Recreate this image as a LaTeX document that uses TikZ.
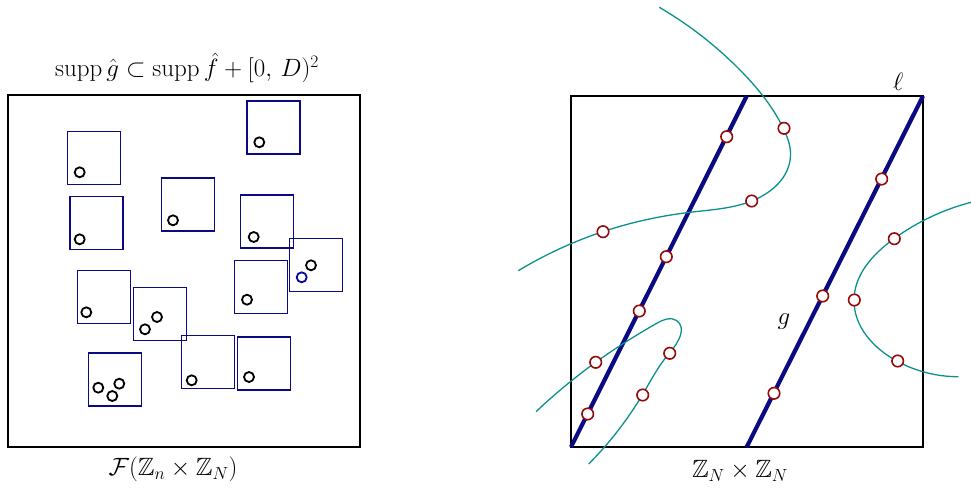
\RequirePackage{fix-cm}
\documentclass[tikz,border=0pt]{standalone}
\usepackage{amsmath,amssymb}
\usetikzlibrary{hobby}
\definecolor{curvecol}{RGB}{10,145,140}
\definecolor{navyb}{RGB}{10,10,130}
\definecolor{dred}{RGB}{150,10,10}
\begin{document}
\begin{tikzpicture}[x=1pt,y=-1pt,
  frame/.style={draw=black,line width=1.4pt},
  bbox/.style={draw=navyb,line width=1.3pt},
  bdot/.style={circle,draw=black,fill=white,line width=1.8pt,minimum size=10pt,inner sep=0pt},
  udot/.style={circle,draw=navyb!80!blue,fill=white,line width=1.8pt,minimum size=10pt,inner sep=0pt},
  rdot/.style={circle,draw=dred,fill=white,line width=1.6pt,minimum size=11.5pt,inner sep=0pt},
  thick line/.style={draw=navyb,line width=4.2pt},
  curve/.style={draw=curvecol,line width=1.3pt},
  lab/.style={font=\fontsize{25}{30}\selectfont,inner sep=0pt}]
\useasboundingbox (0,0) rectangle (971,487);
% ---------- left panel ----------
\node[lab] (title) at (187,68) {$\mathrm{supp}\,\hat g\subset \mathrm{supp}\,\hat f+[0,\,D)^2$};
\draw[frame] (8,95) rectangle (360,447);
\node[lab] (flab) at (173,469) {$\mathcal{F}(\mathbb{Z}_n\times\mathbb{Z}_N)$};
\foreach \x/\y [count=\i] in {67.7/131.7, 247/101, 70/196.3, 161.7/178, 240.7/195, 289.3/238.7, 234.3/260.7, 77.3/270.3, 133.7/287.7, 181.3/335.7, 237.7/337, 88.7/353}
  \draw[bbox] (\x,\y) rectangle ++(53,53);
\node[bdot] (p1) at (79.7,172.3) {};
\node[bdot] (p2) at (259.3,142.3) {};
\node[bdot] (p3) at (79.7,239.3) {};
\node[bdot] (p4) at (173,220.3) {};
\node[bdot] (p5) at (253.7,237) {};
\node[bdot] (p6) at (311,265.3) {};
\node[udot] (p7) at (301.7,277.3) {};
\node[bdot] (p8) at (247,299.7) {};
\node[bdot] (p9) at (86.3,312.3) {};
\node[bdot] (p10) at (157,317) {};
\node[bdot] (p11) at (145,329.3) {};
\node[bdot] (p12) at (191.7,380.3) {};
\node[bdot] (p13) at (249,377) {};
\node[bdot] (p14) at (98.3,387.7) {};
\node[bdot] (p15) at (119.3,383.7) {};
\node[bdot] (p16) at (112.3,396) {};
% ---------- right panel ----------
\draw[frame] (571,96) rectangle (923,447);
\coordinate (l1a) at (571,447);
\coordinate (l1b) at (746.7,96);
\coordinate (l2a) at (746.7,447);
\coordinate (l2b) at (923,96);
\draw[thick line] (l1a) -- (l1b);
\draw[thick line] (l2a) -- (l2b);
\draw[curve,use Hobby shortcut] (659.3,7.3) .. (740,70) .. (783.3,128.3) .. (790.5,156) .. (751.7,201) .. (690,212.3) .. (602.7,231.7) .. (518.3,270.7);
\draw[curve,use Hobby shortcut] (536,411.7) .. (595.7,362.3) .. (656.7,323.3) .. (676.5,320.5) .. (669.3,353.3) .. (642.7,394.3) .. (588.7,464);
\draw[curve,use Hobby shortcut] (971,202.3) .. (894,238.7) .. (854,300) .. (897.3,361.3) .. (958.3,376.7);
\node[rdot] (q1) at (726.7,136.7) {};
\node[rdot] (q2) at (784,128.3) {};
\node[rdot] (q3) at (881.7,179) {};
\node[rdot] (q4) at (751.7,201) {};
\node[rdot] (q5) at (603,231.7) {};
\node[rdot] (q6) at (666.3,256.7) {};
\node[rdot] (q7) at (894.3,238.7) {};
\node[rdot] (q8) at (822.7,296) {};
\node[rdot] (q9) at (854.3,300) {};
\node[rdot] (q10) at (639.3,311) {};
\node[rdot] (q11) at (669.7,353.3) {};
\node[rdot] (q12) at (595.7,362.3) {};
\node[rdot] (q13) at (642.7,395) {};
\node[rdot] (q14) at (774,393.3) {};
\node[rdot] (q15) at (897.7,361) {};
\node[rdot] (q16) at (587.7,414) {};
\node[lab] (ell) at (898.3,82) {$\ell$};
\node[lab] (glab) at (784,322) {$g$};
\node[lab] (zlab) at (740,471) {$\mathbb{Z}_N\times\mathbb{Z}_N$};
\end{tikzpicture}
\end{document}
